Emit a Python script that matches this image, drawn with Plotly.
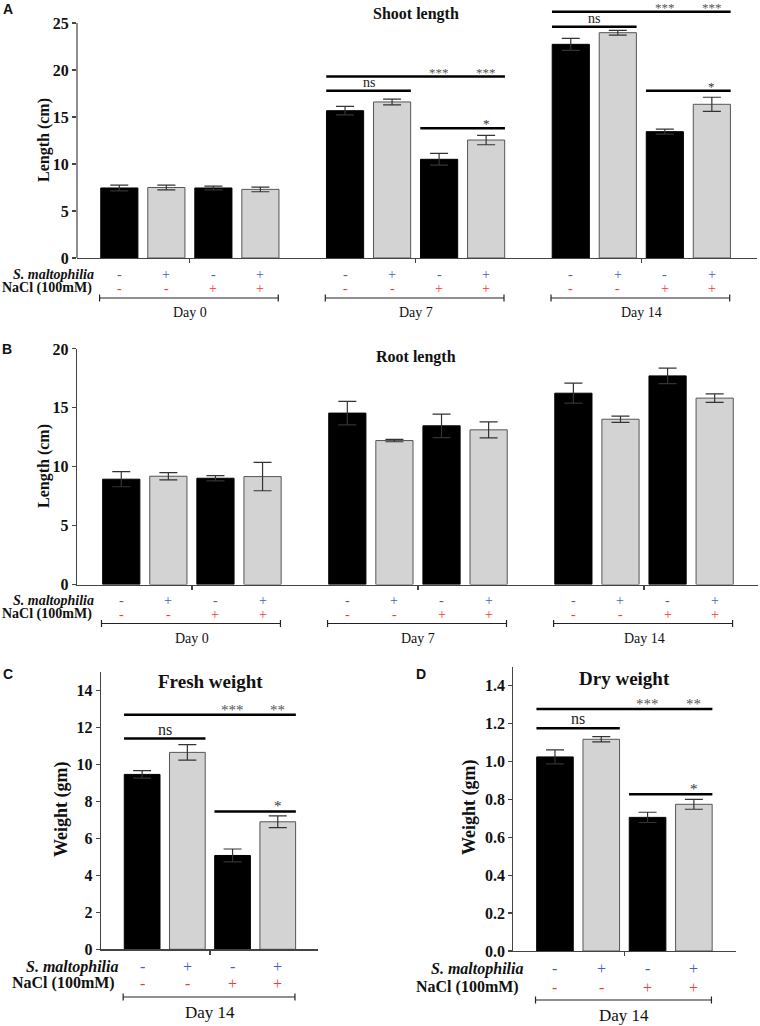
import plotly.graph_objects as go

# ---------------- data ----------------
days = ["Day 0", "Day 7", "Day 14"]
s_malt = ["-", "+", "-", "+"]
nacl = ["-", "-", "+", "+"]

shoot_mean = [7.45, 7.50, 7.45, 7.30, 15.67, 16.60, 10.50, 12.55, 22.73, 23.97, 13.44, 16.35]
shoot_err = [0.30, 0.25, 0.20, 0.25, 0.45, 0.30, 0.62, 0.50, 0.64, 0.25, 0.26, 0.75]

root_mean = [8.94, 9.19, 9.02, 9.16, 14.55, 12.22, 13.47, 13.13, 16.24, 14.03, 17.71, 15.82]
root_err = [0.64, 0.30, 0.22, 1.20, 1.00, 0.10, 1.00, 0.68, 0.85, 0.26, 0.65, 0.36]

fresh_mean = [9.45, 10.64, 5.07, 6.89]
fresh_err = [0.20, 0.42, 0.35, 0.32]

dry_mean = [1.024, 1.117, 0.705, 0.774]
dry_err = [0.037, 0.014, 0.027, 0.026]

# significance: (group, bar_from, bar_to, y, label)
shoot_sig = [(1, 0, 3, 19.3, "***|***"), (1, 0, 1, 17.8, "ns"), (1, 2, 3, 13.8, "*"),
             (2, 0, 3, 26.2, "***|***"), (2, 0, 1, 24.6, "ns"), (2, 2, 3, 17.8, "*")]
fresh_sig = [(0, 0, 3, 12.67, "***|**"), (0, 0, 1, 11.39, "ns"), (0, 2, 3, 7.45, "*")]
dry_sig = [(0, 0, 3, 1.277, "***|**"), (0, 0, 1, 1.175, "ns"), (0, 2, 3, 0.827, "*")]

# ---------------- layout helpers ----------------
W, H = 760, 1026
SERIF = "Liberation Serif"
SANS = "Liberation Sans"
BLUE = "#4062c4"
RED = "#ff3434"
AXC = "#444444"
GROUP_STEP = 4.8
BAR_W = 0.79


def px(x):
    return x / W


def py(y):
    return 1 - y / H


def positions(n_groups):
    return [g * GROUP_STEP + i for g in range(n_groups) for i in range(4)]


fills = ["#000000", "#d3d3d3", "#000000", "#d3d3d3"]
edges = ["#000000", "#555555", "#000000", "#555555"]

fig = go.Figure()
shapes = []
annotations = []


def ann(**kw):
    base = dict(showarrow=False, xanchor="center", yanchor="middle", borderpad=0)
    base.update(kw)
    annotations.append(base)


def add_bars(xa, ya, xs, means, errs, capw):
    n = len(means)
    fig.add_trace(go.Bar(
        x=xs, y=means, xaxis=xa, yaxis=ya, width=BAR_W,
        marker=dict(color=[fills[i % 4] for i in range(n)],
                    line=dict(color=[edges[i % 4] for i in range(n)], width=1)),
        error_y=dict(type="data", array=errs, visible=True, color="#333333",
                     thickness=1.2, width=capw),
        showlegend=False, hoverinfo="skip"))


def add_sig(xa, ya, xs, sigs, fsize_ns, fsize_star):
    for g, b0, b1, yv, lab in sigs:
        x0 = xs[g * 4 + b0] - 0.4
        x1 = xs[g * 4 + b1] + 0.4
        shapes.append(dict(type="line", xref=xa, yref=ya, x0=x0, x1=x1, y0=yv, y1=yv,
                           line=dict(color="#000000", width=2.5)))
        if lab == "ns":
            ann(x=(x0 + x1) / 2, y=yv, xref=xa, yref=ya, text="ns", yanchor="bottom", yshift=0,
                font=dict(family=SERIF, size=fsize_ns, color="#222"))
        elif lab == "*":
            ann(x=xs[g * 4 + b1], y=yv, xref=xa, yref=ya, text="*", yanchor="bottom", yshift=-4,
                font=dict(family=SERIF, size=fsize_star, color="#333"))
        else:
            l2, l3 = lab.split("|")
            for bi, t in ((2, l2), (3, l3)):
                ann(x=xs[g * 4 + bi], y=yv, xref=xa, yref=ya, text=t, yanchor="bottom", yshift=-4,
                    font=dict(family=SERIF, size=fsize_star, color="#555"))


def add_rows(xa, xs, n_groups, y_s, y_n, y_br, y_day, lab_x, fs_sign, fs_lab, fs_day, day_names):
    for i, xv in enumerate(xs):
        ann(x=xv, y=py(y_s), xref=xa, yref="paper", text=s_malt[i % 4],
            font=dict(family=SERIF, size=fs_sign, color=BLUE))
        ann(x=xv, y=py(y_n), xref=xa, yref="paper", text=nacl[i % 4],
            font=dict(family=SERIF, size=fs_sign, color=RED))
    ann(x=px(lab_x[0]), y=py(y_s), xref="paper", yref="paper",
        text="<b><i>S. maltophilia</i></b>", xanchor="right",
        font=dict(family=SERIF, size=fs_lab, color="#111"))
    ann(x=px(lab_x[1]), y=py(y_n), xref="paper", yref="paper",
        text="<b>NaCl (100mM)</b>", xanchor="right",
        font=dict(family=SERIF, size=fs_lab, color="#111"))
    for g in range(n_groups):
        x0 = xs[g * 4] - 0.42
        x1 = xs[g * 4 + 3] + 0.38
        shapes.append(dict(type="line", xref=xa, yref="paper", x0=x0, x1=x1,
                           y0=py(y_br), y1=py(y_br), line=dict(color="#222", width=1.2)))
        for xe in (x0, x1):
            shapes.append(dict(type="line", xref=xa, yref="paper", x0=xe, x1=xe,
                               y0=py(y_br - 3.5), y1=py(y_br + 3.5),
                               line=dict(color="#222", width=1.2)))
        ann(x=(xs[g * 4] + xs[g * 4 + 3]) / 2, y=py(y_day), xref=xa, yref="paper",
            text=day_names[g], font=dict(family=SERIF, size=fs_day, color="#111"))


def text(x, y, t, size, family=SERIF, angle=0, bold=True):
    ann(x=px(x), y=py(y), xref="paper", yref="paper",
        text=("<b>%s</b>" % t) if bold else t, textangle=angle,
        font=dict(family=family, size=size, color="#111"))


# ---------------- Panel A ----------------
xsA = positions(3)
add_bars("x", "y", xsA, shoot_mean, shoot_err, 9)
add_sig("x", "y", xsA, shoot_sig, 14, 13)
add_rows("x", xsA, 3, 274, 288, 298, 312, (95, 93), 14, 14, 14, days)
shapes.append(dict(type="line", xref="x domain", yref="y", x0=0, x1=0, y0=0, y1=25,
                   line=dict(color=AXC, width=1.2)))
text(416, 14, "Shoot length", 16)
text(44, 140, "Length (cm)", 16, angle=-90)
text(8, 9, "A", 14, family=SANS)

# ---------------- Panel B ----------------
xsB = positions(3)
add_bars("x2", "y2", xsB, root_mean, root_err, 9)
add_rows("x2", xsB, 3, 600, 614, 623.5, 638, (95, 93), 14, 14, 14, days)
text(416, 357, "Root length", 16)
text(44, 466, "Length (cm)", 16, angle=-90)
text(7, 349, "B", 14, family=SANS)

# ---------------- Panel C ----------------
xsC = positions(1)
add_bars("x3", "y3", xsC, fresh_mean, fresh_err, 9)
add_sig("x3", "y3", xsC, fresh_sig, 16, 15)
add_rows("x3", xsC, 1, 966.5, 983, 997, 1012, (119, 116), 16, 16, 17, ["Day 14"])
text(210, 681, "Fresh weight", 19)
text(61, 810, "Weight (gm)", 18, angle=-90)
text(8, 674, "C", 14, family=SANS)

# ---------------- Panel D ----------------
xsD = positions(1)
add_bars("x4", "y4", xsD, dry_mean, dry_err, 9)
add_sig("x4", "y4", xsD, dry_sig, 16, 15)
add_rows("x4", xsD, 1, 968.5, 987, 1000, 1015, (524, 520), 16, 16, 17, ["Day 14"])
text(624, 678, "Dry weight", 19)
text(469, 808, "Weight (gm)", 18, angle=-90)
text(421, 674, "D", 14, family=SANS)

# ---------------- axes ----------------
axc = dict(showgrid=False, zeroline=False, ticks="outside", linecolor=AXC, linewidth=1.2,
           tickcolor=AXC, ticklen=4, tickwidth=1.2, automargin=False)
tfAB = dict(family=SERIF, size=16, color="#111", weight="bold")
tfCD = dict(family=SERIF, size=16, color="#111", weight="bold")

fig.update_layout(
    width=W, height=H, margin=dict(l=0, r=0, t=0, b=0, pad=0, autoexpand=False),
    paper_bgcolor="white", plot_bgcolor="white", bargap=0,
    xaxis=dict(domain=[px(77), px(757)], range=[-0.9, 13.56], anchor="y",
               tickvals=[1.5, 1.5 + GROUP_STEP, 1.5 + 2 * GROUP_STEP], showticklabels=False,
               showline=True, **axc),
    yaxis=dict(domain=[py(258), py(4.2)], range=[0, 27], anchor="x",
               tickvals=[0, 5, 10, 15, 20, 25], showline=False, tickfont=tfAB, **axc),
    xaxis2=dict(domain=[px(77), px(758)], range=[-0.94, 13.52], anchor="y2",
                tickvals=[1.5, 1.5 + GROUP_STEP, 1.5 + 2 * GROUP_STEP], showticklabels=False,
                showline=True, **axc),
    yaxis2=dict(domain=[py(584.5), py(348.9)], range=[0, 20], anchor="x2",
                tickvals=[0, 5, 10, 15, 20], showline=True, tickfont=tfAB, **axc),
    xaxis3=dict(domain=[px(101), px(318)], range=[-0.91, 3.89], anchor="y3",
                tickvals=[1.5], showticklabels=False, showline=True, **axc),
    yaxis3=dict(domain=[py(949.3), py(671.7)], range=[0, 15], anchor="x3",
                tickvals=[0, 2, 4, 6, 8, 10, 12, 14], showline=True, tickfont=tfCD, **axc),
    xaxis4=dict(domain=[px(513.3), px(736)], range=[-0.9, 3.91], anchor="y4",
                tickvals=[1.5], showticklabels=False, showline=True, **axc),
    yaxis4=dict(domain=[py(951), py(666.7)], range=[0, 1.5], anchor="x4",
                tickvals=[0, 0.2, 0.4, 0.6, 0.8, 1.0, 1.2, 1.4], tickformat=".1f",
                showline=True, tickfont=tfCD, **axc),
    shapes=shapes, annotations=annotations,
)

fig.write_html("out.html", config={"displayModeBar": False, "staticPlot": True})

# remove default page margins so the figure fills the window exactly
with open("out.html", "r", encoding="utf-8") as f:
    html = f.read()
html = html.replace("<head>", "<head><style>html,body{margin:0;padding:0;overflow:hidden;}</style>", 1)
with open("out.html", "w", encoding="utf-8") as f:
    f.write(html)
